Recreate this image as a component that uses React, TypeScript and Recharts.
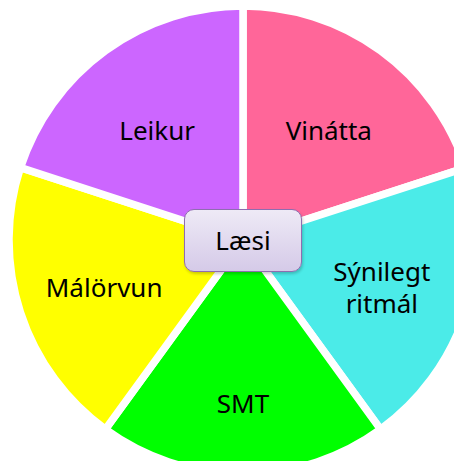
import { PieChart, Pie, Cell } from "recharts";

const categories = ["Vinátta", "Sýnilegt ritmál", "SMT", "Málörvun", "Leikur"];
const shares = [1, 1, 1, 1, 1];
const sliceColors = ["#FF6699", "#4BEBE8", "#00FF00", "#FFFF00", "#CC66FF"];
const centerTitle = "Læsi";

const data = categories.map((name, i) => ({ name, value: shares[i] }));

const FONT = "'Noto Sans', 'Open Sans', sans-serif";
const RAD = Math.PI / 180;
const CX = 235;
const CY = 232;

function SliceLabel(props: any) {
  const { cx, cy, midAngle, name } = props;
  const c = Math.cos(midAngle * RAD);
  const s = Math.sin(midAngle * RAD);
  // labels sit on a slightly squashed ellipse, lower ones further out
  const x = cx + 146 * c;
  const y = cy - (148 - 15 * s) * s;
  const lines = String(name).split(" ");
  const lh = 32;
  const top = y - ((lines.length - 1) * lh) / 2;
  return (
    <g>
      {lines.map((ln, i) => (
        <text key={i} x={x} y={top + i * lh} textAnchor="middle" dominantBaseline="central" fill="#000" fontSize={26} fontFamily={FONT}>
          {ln}
        </text>
      ))}
    </g>
  );
}

export default function App() {
  const w = 118;
  const h = 63;
  return (
    <div style={{ position: "relative", width: 454, height: 453 }}>
      <PieChart width={454} height={453} margin={{ top: 0, right: 0, bottom: 0, left: 0 }}>
        <Pie
          data={data}
          dataKey="value"
          nameKey="name"
          cx={CX}
          cy={CY}
          innerRadius={0}
          outerRadius={234}
          startAngle={90}
          endAngle={-270}
          stroke="#FFFFFF"
          strokeWidth={7.5}
          label={SliceLabel}
          labelLine={false}
          isAnimationActive={false}
        >
          {data.map((d, i) => (
            <Cell key={d.name} fill={sliceColors[i]} />
          ))}
        </Pie>
      </PieChart>
      <div
        style={{
          position: "absolute",
          left: CX - w / 2,
          top: CY - h / 2,
          width: w,
          height: h,
          boxSizing: "border-box",
          borderRadius: 10,
          border: "1.8px solid #8F6DB0",
          background: "linear-gradient(#EEEAF6, #D5CAE8)",
          boxShadow: "1px 2px 3px rgba(0,0,0,0.2)",
          display: "flex",
          alignItems: "center",
          justifyContent: "center",
          fontFamily: FONT,
          fontSize: 26,
          color: "#000",
        }}
      >
        {centerTitle}
      </div>
    </div>
  );
}
